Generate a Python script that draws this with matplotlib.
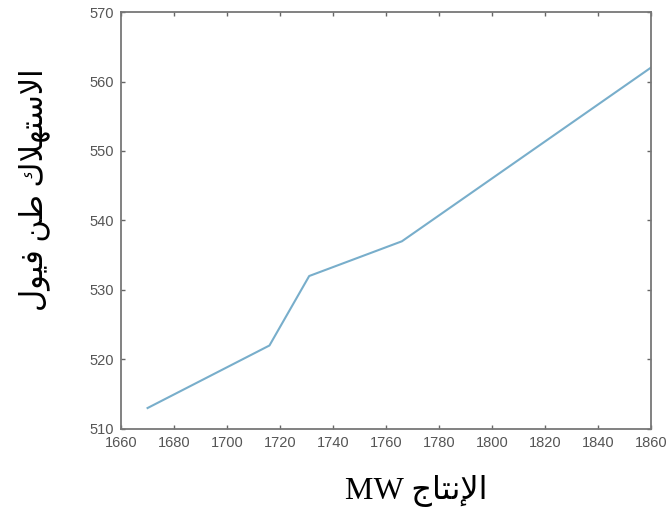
import matplotlib.pyplot as plt

# data
production = [1670, 1716, 1731, 1766, 1860]   # MW
consumption = [513, 522, 532, 537, 562]       # tons of fuel

x_ticks = list(range(1660, 1861, 20))
y_ticks = list(range(510, 571, 10))

# Arabic labels in presentation forms (visual order), since matplotlib does no shaping
x_label = "MW \uFE9D\uFE8E\uFE98\uFEE7\uFEF9\uFE8D"                    # الإنتاج MW
y_label = ("\uFEDD\uFEEE\uFEF4\uFED3 \uFEE6\uFEC3 "
           "\uFED9\uFEFC\uFEEC\uFE98\uFEB3\uFEFB\uFE8D")              # الاستهلاك طن فيول

fig = plt.figure(figsize=(6.69, 5.23), dpi=100)
ax = fig.add_axes([0.181, 0.180, 0.792, 0.797])

ax.plot(production, consumption, color='#78aecb', linewidth=1.5)

ax.set_xlim(1660, 1860)
ax.set_ylim(510, 570)
ax.set_xticks(x_ticks)
ax.set_yticks(y_ticks)

ax.tick_params(direction='in', top=True, right=True, length=3, width=1,
               color='#666666', labelcolor='#555555', labelsize=10.5, pad=5)
for lbl in ax.get_xticklabels() + ax.get_yticklabels():
    lbl.set_family(['Liberation Sans', 'DejaVu Sans'])
for s in ax.spines.values():
    s.set_color('#777777')
    s.set_linewidth(1.3)

ax.set_xlabel(x_label, fontsize=23, family=['Liberation Serif', 'DejaVu Sans'])
ax.xaxis.set_label_coords(0.558, -0.11)
ax.set_ylabel(y_label, fontsize=22, family=['Liberation Serif', 'DejaVu Sans'])
ax.yaxis.set_label_coords(-0.134, 0.573)

fig.savefig('out.png', dpi=100)
